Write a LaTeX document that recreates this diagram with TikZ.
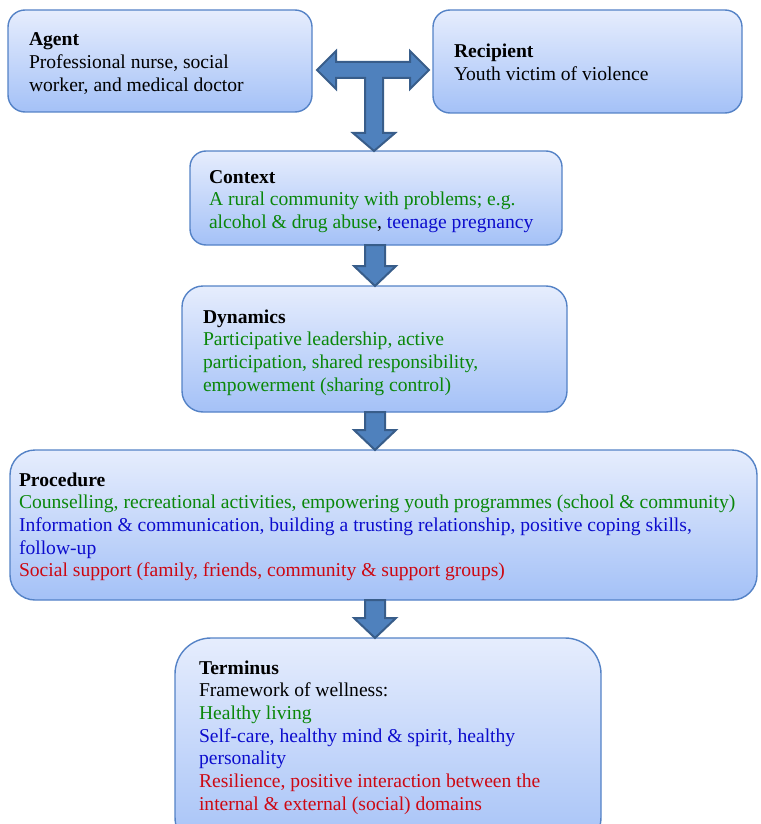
\documentclass[tikz,border=0pt]{standalone}
\usepackage{fontspec}
\setmainfont{Liberation Serif}
\usetikzlibrary{calc}
\definecolor{tgreen}{RGB}{10,135,10}
\definecolor{tblue}{RGB}{12,12,205}
\definecolor{tred}{RGB}{205,8,18}
\definecolor{boxline}{RGB}{84,130,198}
\definecolor{boxtop}{RGB}{230,237,253}
\definecolor{boxbot}{RGB}{164,193,247}
\definecolor{arrfill}{RGB}{79,129,189}
\definecolor{arrline}{RGB}{56,93,138}
\newcommand{\flowdown}[2]{\path[bigarrow] let \p1=(#1.south), \p2=(#2.north) in
  (365pt,\y1) -- (385pt,\y1) -- (385pt,\y2+20pt) -- (396pt,\y2+20pt) -- (375pt,\y2)
  -- (354pt,\y2+20pt) -- (365pt,\y2+20pt) -- cycle;}
\begin{document}
\begin{tikzpicture}[x=1pt,y=-1pt,
  box/.style={draw=boxline, line width=1.4pt, top color=boxtop, bottom color=boxbot,
    anchor=north west, inner sep=0pt, outer sep=0pt},
  txt/.style={anchor=north west, inner sep=0pt, outer sep=0pt, align=left,
    font=\fontsize{19.6}{22.7}\selectfont},
  bigarrow/.style={fill=arrfill, draw=arrline, line width=2pt, line join=miter}]
\useasboundingbox (0,0) rectangle (760,824);
\clip (0,0) rectangle (760,824);
% boxes
\node[box, minimum width=304pt, minimum height=102pt, rounded corners=17pt] (agent) at (8,10) {};
\node[box, minimum width=309pt, minimum height=103pt, rounded corners=17pt] (rec) at (433,10) {};
\node[box, minimum width=372pt, minimum height=94pt, rounded corners=16pt] (ctx) at (190,151) {};
\node[box, minimum width=385pt, minimum height=126pt, rounded corners=21pt] (dyn) at (182,286) {};
\node[box, minimum width=747pt, minimum height=150pt, rounded corners=25pt] (proc) at (10,450) {};
\node[box, minimum width=426pt, minimum height=215pt, rounded corners=36pt] (term) at (175,638) {};
% texts
\node[txt] (agentT) at (29,31) {\rule{0pt}{15pt}\textbf{Agent}\\Professional nurse, social\\worker, and medical doctor};
\node[txt] (recT) at (454,43) {\rule{0pt}{15pt}\textbf{Recipient}\\Youth victim of violence};
\node[txt] (ctxT) at (209,168) {\rule{0pt}{15pt}\textbf{Context}\\\textcolor{tgreen}{A rural community with problems; e.g.}\\\textcolor{tgreen}{alcohol \& drug abuse}, \textcolor{tblue}{teenage pregnancy}};
\node[txt] (dynT) at (203,308) {\rule{0pt}{15pt}\textbf{Dynamics}\\\textcolor{tgreen}{Participative leadership, active}\\\textcolor{tgreen}{participation, shared responsibility,}\\\textcolor{tgreen}{empowerment (sharing control)}};
\node[txt] (procT) at (19,471) {\rule{0pt}{15pt}\textbf{Procedure}\\\textcolor{tgreen}{Counselling, recreational activities, empowering youth programmes (school \& community)}\\\textcolor{tblue}{Information \& communication, building a trusting relationship, positive coping skills,}\\\textcolor{tblue}{follow-up}\\\textcolor{tred}{Social support (family, friends, community \& support groups)}};
\node[txt] (termT) at (199,659) {\rule{0pt}{15pt}\textbf{Terminus}\\Framework of wellness:\\\textcolor{tgreen}{Healthy living}\\\textcolor{tblue}{Self-care, healthy mind \& spirit, healthy}\\\textcolor{tblue}{personality}\\\textcolor{tred}{Resilience, positive interaction between the}\\\textcolor{tred}{internal \& external (social) domains}};
% T-shaped arrow
\path[bigarrow] let \p1=(agent.east), \p2=(rec.west), \p3=(ctx.north) in
  (\x1+5pt,-70pt) -- (\x1+24pt,-51pt) -- (\x1+24pt,-62pt) -- (\x2-23pt,-62pt)
  -- (\x2-23pt,-51pt) -- (\x2-4pt,-70pt) -- (\x2-23pt,-89pt) -- (\x2-23pt,-78pt)
  -- (383pt,-78pt) -- (383pt,\y3+18pt) -- (395pt,\y3+18pt) -- (374pt,\y3)
  -- (353pt,\y3+18pt) -- (365pt,\y3+18pt) -- (365pt,-78pt) -- (\x1+24pt,-78pt)
  -- (\x1+24pt,-89pt) -- cycle;
% down arrows
\flowdown{ctx}{dyn}
\flowdown{dyn}{proc}
\flowdown{proc}{term}
\end{tikzpicture}
\end{document}
